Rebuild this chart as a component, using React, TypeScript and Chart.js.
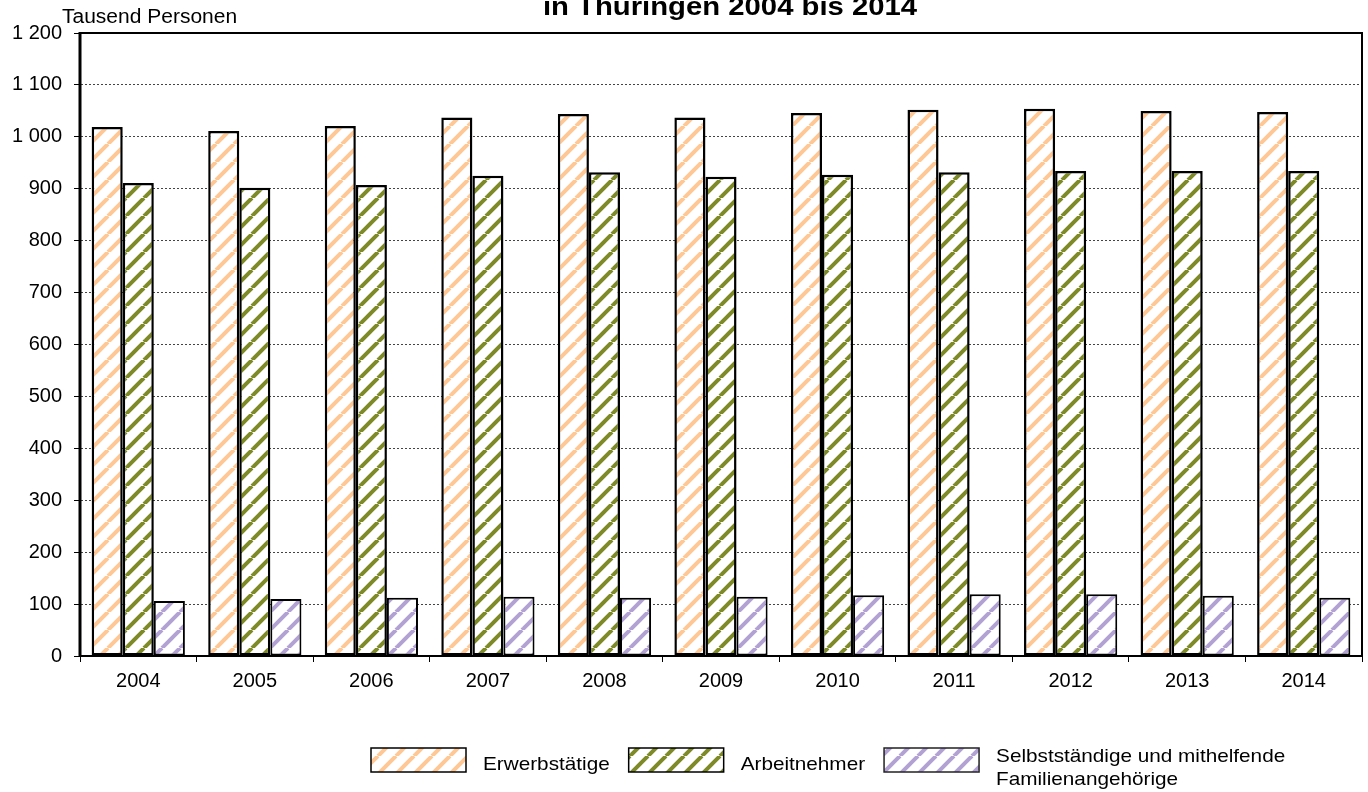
import React, { useEffect, useRef } from "react";
import { Chart, registerables } from "chart.js";

Chart.register(...registerables);

const years = ["2004", "2005", "2006", "2007", "2008", "2009", "2010", "2011", "2012", "2013", "2014"];
const erwerbstaetige = [1019, 1011, 1021, 1037, 1044, 1037, 1046, 1052, 1054, 1050, 1048];
const arbeitnehmer = [911, 902, 907, 925, 932, 923, 927, 932, 934, 934, 934];
const selbststaendige = [106, 110, 112, 114, 112, 114, 117, 119, 119, 116, 112];
const seriesLabels = ["Erwerbstätige", "Arbeitnehmer", "Selbstständige und mithelfende\nFamilienangehörige"];
const titleText = "in Thüringen 2004 bis 2014";
const yAxisTitle = "Tausend Personen";

const FONT = '"Liberation Sans", Arial, sans-serif';

function makePattern(color: string): CanvasPattern | string {
  const S = 18;
  const c = document.createElement("canvas");
  c.width = S;
  c.height = S;
  const ctx = c.getContext("2d");
  if (!ctx) return color;
  ctx.fillStyle = "#ffffff";
  ctx.fillRect(0, 0, S, S);
  ctx.strokeStyle = color;
  ctx.lineWidth = 4;
  for (let k = -1; k <= 1; k++) {
    ctx.beginPath();
    ctx.moveTo(k * S, S);
    ctx.lineTo(k * S + S, 0);
    ctx.stroke();
  }
  const p = ctx.createPattern(c, "repeat");
  return p || color;
}

function fmt(v: number): string {
  if (v >= 1000) return `${Math.floor(v / 1000)} ${String(v % 1000).padStart(3, "0")}`;
  return String(v);
}

export default function App() {
  const ref = useRef<HTMLCanvasElement | null>(null);

  useEffect(() => {
    document.body.style.margin = "0";
    const canvas = ref.current;
    if (!canvas) return;

    const colors = ["#ffc794", "#7d8a26", "#b2a2d4"];
    const patterns = colors.map(makePattern);
    const borderWidths = [2.5, 2.5, 2];
    const legendBorder = ["#000000", "#000000", "#222222"];

    const framePlugin = {
      id: "frame",
      afterDraw(chart: any) {
        const { ctx, chartArea } = chart;
        ctx.save();
        ctx.strokeStyle = "#000";
        ctx.lineWidth = 2;
        ctx.strokeRect(chartArea.left, chartArea.top, chartArea.right - chartArea.left, chartArea.bottom - chartArea.top);
        ctx.lineWidth = 3;
        ctx.beginPath();
        ctx.moveTo(chartArea.left, chartArea.top - 1);
        ctx.lineTo(chartArea.left, chartArea.bottom + 1);
        ctx.stroke();

        // title (partially cut at top)
        ctx.fillStyle = "#000";
        ctx.font = `bold 26px ${FONT}`;
        ctx.textBaseline = "alphabetic";
        ctx.textAlign = "center";
        ctx.save();
        ctx.translate(730, 15);
        ctx.scale(1.126, 1);
        ctx.fillText(titleText, 0, 0);
        ctx.restore();

        // y axis title
        ctx.font = `20px ${FONT}`;
        ctx.textAlign = "left";
        ctx.save();
        ctx.translate(62, 23);
        ctx.scale(1.05, 1);
        ctx.fillText(yAxisTitle, 0, 0);
        ctx.restore();

        // legend
        const boxW = 95;
        const boxH = 24;
        const boxTop = 748;
        const sx = 1.12;
        let x = 371;
        ctx.font = `18.5px ${FONT}`;
        chart.data.datasets.forEach((ds: any, i: number) => {
          ctx.fillStyle = patterns[i] as any;
          ctx.fillRect(x, boxTop, boxW, boxH);
          ctx.strokeStyle = legendBorder[i];
          ctx.lineWidth = 1.5;
          ctx.strokeRect(x, boxTop, boxW, boxH);
          const lines = String(ds.label).split("\n");
          const tx = x + boxW + 17;
          ctx.fillStyle = "#000";
          let maxW = 0;
          lines.forEach((ln: string, li: number) => {
            const baseY = lines.length === 1 ? 770 : 762 + li * 23;
            ctx.save();
            ctx.translate(tx, baseY);
            ctx.scale(sx, 1);
            ctx.fillText(ln, 0, 0);
            ctx.restore();
            maxW = Math.max(maxW, ctx.measureText(ln).width * sx);
          });
          x = tx + maxW + 19;
        });
        ctx.restore();
      },
    };

    const chart = new Chart(canvas, {
      type: "bar",
      data: {
        labels: years,
        datasets: [erwerbstaetige, arbeitnehmer, selbststaendige].map((d, i) => ({
          label: seriesLabels[i],
          data: d,
          backgroundColor: patterns[i] as any,
          borderColor: "#000",
          borderWidth: borderWidths[i],
          borderSkipped: false,
          categoryPercentage: 0.8,
          barPercentage: 1.0,
        })),
      },
      options: {
        responsive: false,
        animation: false,
        maintainAspectRatio: false,
        layout: { padding: { top: 33, left: 0, right: 6, bottom: 0 } },
        plugins: {
          legend: { display: false },
          tooltip: { enabled: false },
          title: { display: false },
        },
        scales: {
          x: {
            offset: true,
            grid: {
              offset: true,
              drawOnChartArea: false,
              drawTicks: true,
              tickLength: 6,
              tickColor: "#000",
              tickWidth: 1,
            },
            border: { display: true, color: "#000", width: 2 },
            ticks: {
              color: "#000",
              font: { family: FONT, size: 20 },
              padding: 7,
              maxRotation: 0,
            },
            afterFit(scale: any) {
              scale.height = 136;
            },
          },
          y: {
            min: 0,
            max: 1200,
            ticks: {
              stepSize: 100,
              color: "#000",
              font: { family: FONT, size: 20 },
              padding: 12,
              callback: (v: any) => fmt(Number(v)),
            },
            grid: {
              color: "#444",
              lineWidth: 1,
              drawTicks: true,
              tickLength: 6,
              tickColor: "#000",
              tickWidth: 1,
            },
            border: { display: true, color: "#000", width: 2, dash: [2, 2] },
            afterFit(scale: any) {
              scale.width = 80;
            },
          },
        },
      },
      plugins: [framePlugin],
    });

    return () => chart.destroy();
  }, []);

  return (
    <div style={{ width: 1368, height: 792 }}>
      <canvas ref={ref} width={1368} height={792} />
    </div>
  );
}
